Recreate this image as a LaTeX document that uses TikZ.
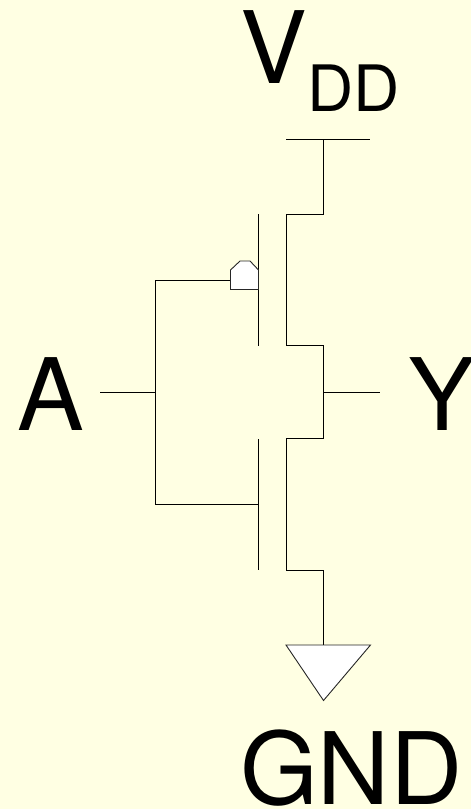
\documentclass[tikz,border=0pt]{standalone}
\usepackage{fontspec}
\setmainfont{TeX Gyre Heros}
\definecolor{bgc}{HTML}{FFFFE3}
\tikzset{
  wire/.style={draw=black,line width=0.9pt,line cap=butt,line join=miter},
  sym/.style={draw=black!85,line width=0.9pt,fill=white,line join=miter},
  big/.style={inner sep=0pt,outer sep=0pt,anchor=base west,font=\fontsize{100}{100}\selectfont,text=black},
  small/.style={inner sep=0pt,outer sep=0pt,anchor=base west,font=\fontsize{64}{64}\selectfont,text=black}
}
\begin{document}
\begin{tikzpicture}[x=1pt,y=-1pt]
\useasboundingbox (0,0) rectangle (471,809);
\fill[bgc] (0,0) rectangle (471,809);
% labels
\node[big] (v) at (240,83) {V};
\node[small] (dd) at (307,111) {DD};
\node[big] (a) at (17,430) {A};
\node[big] (y) at (408,430) {\makebox[62pt][l]{Y}};
\node[big] (gnd) at (240,804) {GND};
% junctions
\coordinate (railL) at (286,139.5);
\coordinate (railR) at (370,139.5);
\coordinate (railM) at (323.5,139.5);
\coordinate (inL) at (100,392.5);
\coordinate (inJ) at (155.5,392.5);
\coordinate (outJ) at (323.5,392.5);
\coordinate (outR) at (380,392.5);
\coordinate (pgate) at (230.5,280.5);
\coordinate (ngate) at (258.5,504.5);
\coordinate (gtop) at (155.5,280.5);
\coordinate (gbot) at (155.5,504.5);
\coordinate (gndtop) at (323.5,645);
% wires
\draw[wire] (railL) -- (railR);
\draw[wire] (railM) -- (323.5,214) -- (286.5,214) -- (286.5,345.5) -- (323.5,345.5) -- (outJ)
  -- (323.5,438.5) -- (286.5,438.5) -- (286.5,570) -- (323.5,570) -- (gndtop);
\draw[wire] (258.5,214) -- (258.5,345.5);
\draw[wire] (258.5,439) -- (258.5,570);
\draw[wire] (inL) -- (inJ);
\draw[wire] (outJ) -- (outR);
\draw[wire] (pgate) -- (gtop) -- (gbot) -- (ngate);
% symbols
\draw[sym] (230.5,270) -- (240,261) -- (250,261) -- (258.5,270) -- (258.5,289.5) -- (230.5,289.5) -- cycle;
\draw[sym] (286,645) -- (370.5,645) -- (323.5,700.5) -- cycle;
\end{tikzpicture}
\end{document}
